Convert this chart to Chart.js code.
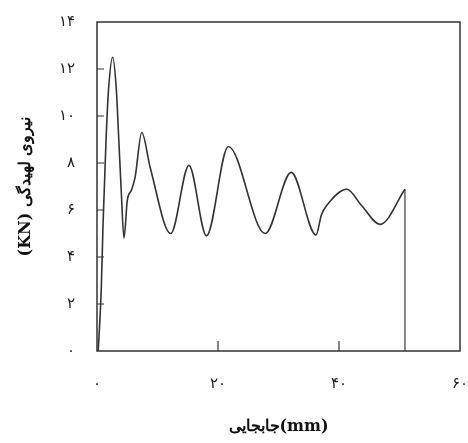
<!DOCTYPE html>
<html>
<head>
<meta charset="utf-8">
<script src="https://cdn.jsdelivr.net/npm/chart.js@4"></script>
<style>
  html, body { margin: 0; padding: 0; background: #fff; }
  #wrap { width: 468px; height: 443px; }
</style>
</head>
<body>
<div id="wrap"><canvas id="crushChart"></canvas></div>
<script>
// displacement (mm) and crushing force (kN)
const dispMm = [0.2, 0.7, 1.0, 1.2, 1.5, 1.9, 2.6, 3.2, 3.6, 4.0, 4.46, 5.0, 5.7, 6.3, 7.4, 8.8, 12.2, 15.2, 18.1, 21.7, 27.8, 32.1, 36.2, 37.1, 38.0, 41.3, 43.7, 46.8, 50.9];
const forceKN = [0, 2.6, 5.4, 6.85, 9.0, 11.1, 12.5, 11.1, 9.0, 6.85, 4.8, 6.4, 6.85, 7.4, 9.3, 7.8, 5.0, 7.9, 4.9, 8.7, 5.0, 7.6, 4.94, 5.8, 6.2, 6.88, 6.2, 5.39, 6.88];
// final unloading drop
const dropMm = [50.9, 50.9];
const dropKN = [6.88, 0];

const xTicks = [0, 20, 40, 60];
const yTicks = [0, 2, 4, 6, 8, 10, 12, 14];

const persianDigits = '۰۱۲۳۴۵۶۷۸۹';
function toPersian(n) {
    return String(n).replace(/[0-9]/g, d => persianDigits[d]);
}

// box around the plot + small inward ticks
const framePlugin = {
    id: 'frame',
    afterDraw(chart) {
        const { ctx, chartArea: a, scales } = chart;
        ctx.save();
        ctx.strokeStyle = '#333';
        ctx.lineWidth = 1.5;
        ctx.strokeRect(a.left, a.top, a.right - a.left, a.bottom - a.top);
        ctx.lineWidth = 1.2;
        ctx.beginPath();
        yTicks.slice(1, -1).forEach(v => {
            const y = scales.y.getPixelForValue(v);
            ctx.moveTo(a.left, y);
            ctx.lineTo(a.left + 7, y);
        });
        xTicks.slice(1, -1).forEach(v => {
            const x = scales.x.getPixelForValue(v);
            ctx.moveTo(x, a.bottom);
            ctx.lineTo(x, a.bottom - 10);
        });
        ctx.stroke();
        ctx.restore();
    }
};

const toXY = (xs, ys) => xs.map((x, i) => ({ x: x, y: ys[i] }));

new Chart(document.getElementById('crushChart'), {
    type: 'line',
    data: {
        datasets: [{
            data: toXY(dispMm, forceKN),
            borderColor: '#333',
            borderWidth: 1.6,
            pointRadius: 0,
            cubicInterpolationMode: 'monotone',
            fill: false
        }, {
            data: toXY(dropMm, dropKN),
            borderColor: '#555',
            borderWidth: 1.4,
            pointRadius: 0,
            tension: 0,
            fill: false
        }]
    },
    options: {
        responsive: true,
        maintainAspectRatio: false,
        animation: false,
        layout: { padding: { top: 22, right: 8, left: 0, bottom: 0 } },
        plugins: {
            legend: { display: false },
            tooltip: { enabled: false }
        },
        scales: {
            x: {
                type: 'linear',
                min: 0,
                max: 60,
                afterBuildTicks: s => { s.ticks = xTicks.map(v => ({ value: v })); },
                afterFit: s => { s.height = 92; s.paddingLeft = 0; s.paddingRight = 0; },
                grid: { display: false, drawTicks: false },
                border: { display: false },
                ticks: {
                    padding: 24,
                    color: '#222',
                    font: { family: 'DejaVu Sans', size: 15 },
                    maxRotation: 0,
                    callback: v => toPersian(v)
                },
                title: {
                    display: true,
                    text: 'جابجایی(mm)',
                    color: '#111',
                    font: { family: 'DejaVu Serif', size: 16, weight: 'bold' },
                    padding: { top: 0, bottom: 7 }
                }
            },
            y: {
                type: 'linear',
                min: 0,
                max: 14,
                afterBuildTicks: s => { s.ticks = yTicks.map(v => ({ value: v })); },
                afterFit: s => { s.width = 97; s.paddingTop = 0; s.paddingBottom = 0; },
                grid: { display: false, drawTicks: false },
                border: { display: false },
                ticks: {
                    padding: 22,
                    color: '#222',
                    font: { family: 'DejaVu Sans', size: 15 },
                    callback: v => toPersian(v)
                },
                title: {
                    display: true,
                    text: '(KN) نیروی لهیدگی',
                    color: '#111',
                    font: { family: 'DejaVu Serif', size: 16, weight: 'bold' },
                    padding: { top: 16, bottom: 0 }
                }
            }
        }
    },
    plugins: [framePlugin]
});
</script>
</body>
</html>
